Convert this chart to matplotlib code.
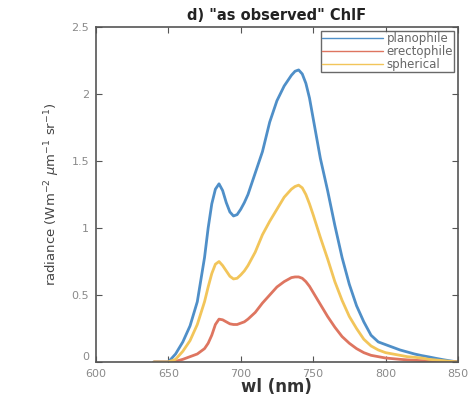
import matplotlib
matplotlib.use("Agg")
import matplotlib.pyplot as plt

wl = [640, 645, 650, 655, 660, 665, 670, 675, 677.5, 680, 682.5, 685, 687.5, 690,
      692.5, 695, 697.5, 700, 702.5, 705, 710, 715, 720, 725, 730, 735, 737.5, 740,
      742.5, 745, 747.5, 750, 755, 760, 765, 770, 775, 780, 785, 790, 795, 800,
      805, 810, 815, 820, 825, 830, 835, 840, 845, 850]

planophile = [0, 0, 0.0, 0.06, 0.15, 0.27, 0.45, 0.78, 1.00, 1.18, 1.29, 1.33, 1.28,
              1.19, 1.12, 1.09, 1.10, 1.14, 1.19, 1.25, 1.41, 1.57, 1.79, 1.95, 2.06,
              2.14, 2.17, 2.18, 2.15, 2.08, 1.97, 1.82, 1.52, 1.28, 1.02, 0.78, 0.58,
              0.42, 0.30, 0.20, 0.15, 0.13, 0.11, 0.09, 0.075, 0.06, 0.048, 0.038,
              0.027, 0.017, 0.008, 0.0]

erectophile = [0, 0, 0.0, 0.005, 0.02, 0.04, 0.06, 0.10, 0.14, 0.20, 0.28, 0.32, 0.315,
               0.30, 0.285, 0.28, 0.28, 0.29, 0.30, 0.32, 0.37, 0.44, 0.50, 0.56, 0.60,
               0.63, 0.635, 0.635, 0.625, 0.60, 0.565, 0.52, 0.43, 0.34, 0.26, 0.19,
               0.14, 0.10, 0.07, 0.05, 0.04, 0.03, 0.025, 0.02, 0.016, 0.013, 0.01,
               0.008, 0.006, 0.004, 0.002, 0.0]

spherical = [0, 0, 0.0, 0.02, 0.08, 0.16, 0.28, 0.45, 0.56, 0.66, 0.73, 0.75, 0.72,
             0.68, 0.64, 0.62, 0.625, 0.65, 0.68, 0.72, 0.82, 0.95, 1.05, 1.14, 1.23,
             1.29, 1.31, 1.32, 1.30, 1.25, 1.18, 1.10, 0.93, 0.77, 0.60, 0.46, 0.34,
             0.25, 0.17, 0.12, 0.09, 0.07, 0.06, 0.05, 0.04, 0.035, 0.03, 0.02,
             0.015, 0.01, 0.005, 0.0]

series = [("planophile", planophile, "#4f8fc8"),
          ("erectophile", erectophile, "#de7560"),
          ("spherical", spherical, "#f2c55a")]

xticks = [600, 650, 700, 750, 800, 850]
yticks = [0, 0.5, 1, 1.5, 2, 2.5]
ytick_labels = ["0", "0.5", "1", "1.5", "2", "2.5"]

fig = plt.figure(figsize=(4.75, 3.95), dpi=100)
ax = fig.add_axes([0.202, 0.0835, 0.762, 0.848])

for name, vals, col in series:
    ax.plot(wl, vals, color=col, lw=2.0, label=name,
            solid_joinstyle="round", solid_capstyle="round")

ax.set_xlim(600, 850)
ax.set_ylim(0, 2.5)
ax.set_xticks(xticks)
ax.set_yticks(yticks)
ax.set_yticklabels(ytick_labels)
ax.tick_params(direction="in", top=True, right=True, length=4, width=0.8,
               labelsize=8, labelcolor="#8a8a8a", color="#555555")
ax.tick_params(axis="x", pad=5)
ax.tick_params(axis="y", pad=5)
for lab in ax.get_yticklabels():
    if lab.get_text() == "0":
        lab.set_verticalalignment("bottom")
for s in ax.spines.values():
    s.set_color("#555555")
    s.set_linewidth(1.2)

ax.set_title('d) "as observed" ChlF', fontsize=10.5, fontweight="bold", pad=5,
             color="#222222")
ax.set_xlabel("wl (nm)", fontsize=12, fontweight="bold", labelpad=-1,
              color="#333333")
ax.set_ylabel(r"radiance (Wm$^{-2}$ $\mu$m$^{-1}$ sr$^{-1}$)", fontsize=9.5,
              color="#444444", labelpad=7)

leg = ax.legend(loc="upper right", fontsize=8.5, frameon=True, fancybox=False,
                handlelength=5.2, borderpad=0.1, labelspacing=0.0,
                handletextpad=0.3, borderaxespad=0.3)
leg.get_frame().set_edgecolor("#444444")
leg.get_frame().set_linewidth(1.0)
for t in leg.get_texts():
    t.set_color("#666666")
for l in leg.get_lines():
    l.set_linewidth(1.0)

fig.savefig("out.png", dpi=100)
